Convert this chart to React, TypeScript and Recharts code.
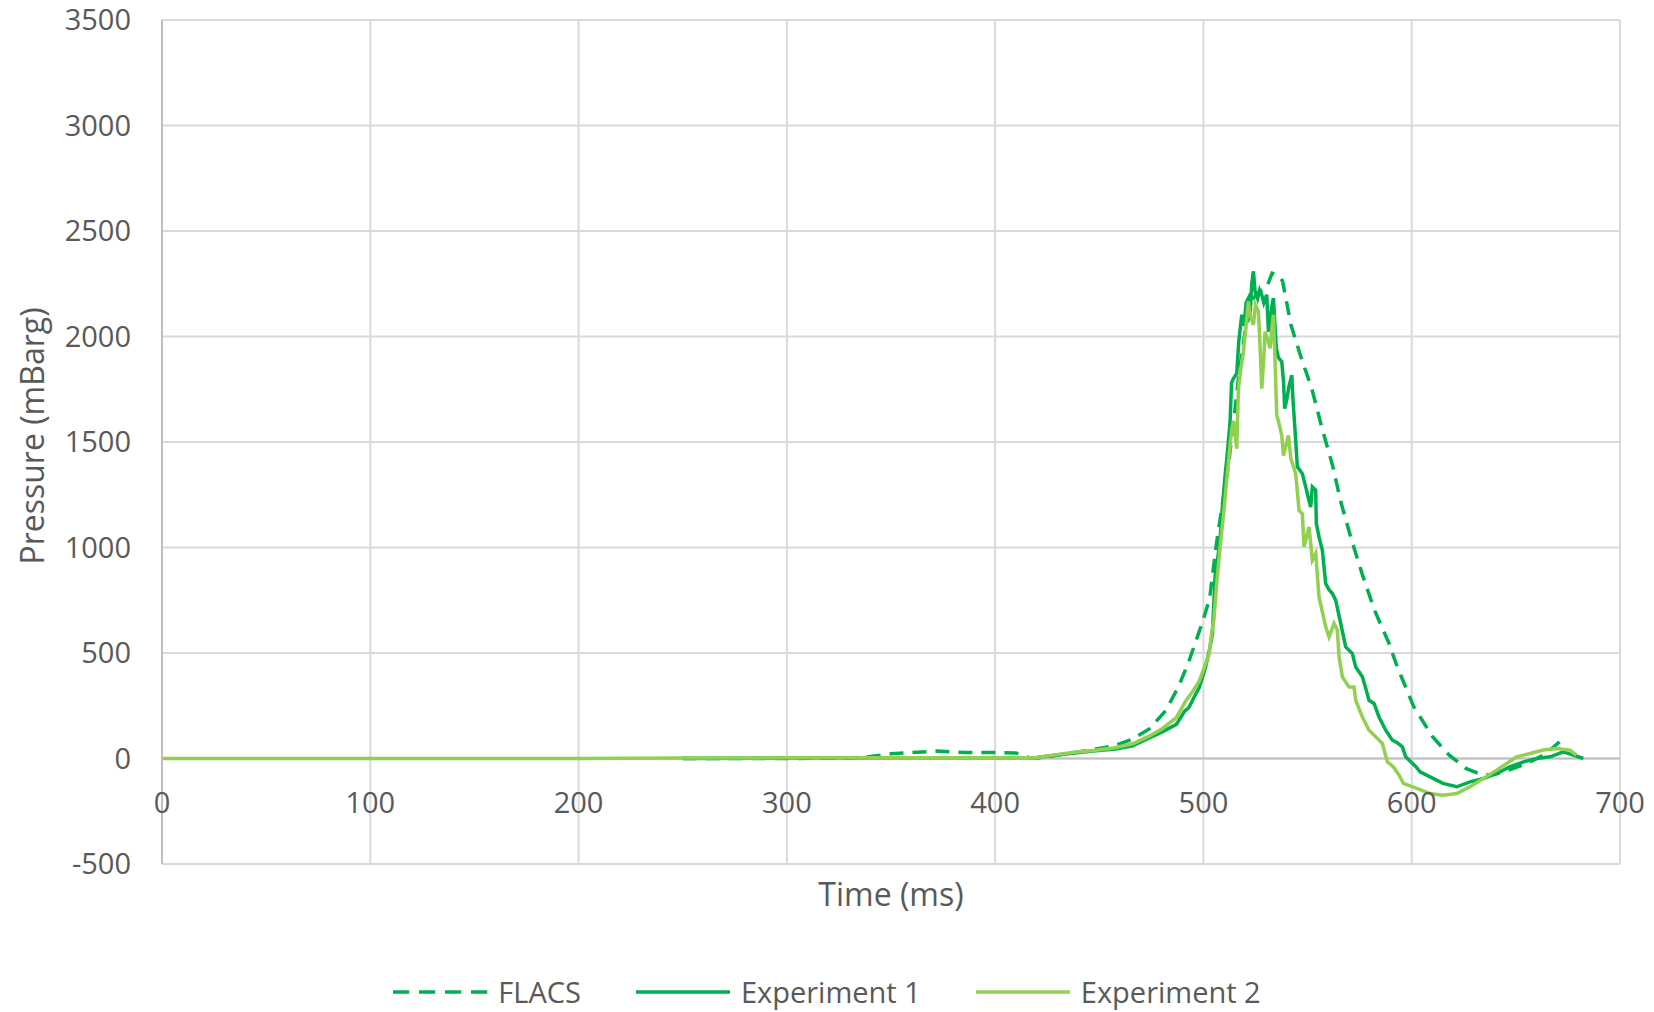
import React from "react";
import {
  LineChart,
  Line,
  XAxis,
  YAxis,
  CartesianGrid,
  ReferenceLine,
} from "recharts";

// Pressure traces, [time (ms), pressure (mBarg)]
const flacsPoints: number[][] = [
  [250, 0], [300, 0], [330, 2], [340, 10], [350, 22], [360, 28], [372, 35], [385, 28],
  [400, 28], [410, 26], [416, 5], [422, 2], [434, 22], [446, 40], [457, 60], [466, 92],
  [474, 140], [482, 228], [488, 340], [493, 460], [497, 574], [500, 660], [503, 760],
  [506, 1000], [509, 1200], [512, 1390], [515, 1640], [517, 1817], [520, 2023], [524, 2182],
  [527, 2214], [530, 2225], [533, 2300], [536, 2290], [538, 2262], [542, 2055], [547, 1897],
  [552, 1754], [557, 1563], [562, 1389], [566, 1214], [571, 1040], [576, 881], [582, 706],
  [589, 548], [593, 436], [601, 245], [610, 103], [618, 16], [626, -47], [634, -79],
  [640, -75], [648, -50], [656, -20], [664, 20], [671, 79],
];

const exp1Points: number[][] = [
  [250, 0], [300, 2], [350, 3], [400, 3], [420, 5], [437, 25], [447, 35], [458, 45],
  [466, 60], [474, 98], [480, 125], [487, 162], [491, 225], [493, 241], [496, 300],
  [498, 336], [500, 400], [501, 432], [503, 520], [504.3, 590], [505.6, 865], [507, 960],
  [508, 1040], [509, 1180], [510.4, 1341], [511.5, 1450], [512.8, 1595], [513.5, 1780],
  [514.4, 1801], [516, 1825], [517, 1980], [518.4, 2103], [519.5, 2050], [520.5, 2160],
  [521.6, 2182], [522.5, 2120], [523.2, 2250], [524, 2309], [524.8, 2214], [526, 2180],
  [527, 2220], [528, 2198], [529, 2160], [530.4, 2198], [531.2, 2023], [532, 2080],
  [533, 2150], [533.6, 2182], [534.3, 2060], [535, 1944], [536, 1900], [537.6, 1881],
  [538.5, 1780], [539, 1658], [540, 1700], [541, 1760], [542.4, 1817], [543, 1700],
  [544.3, 1508], [545.1, 1382], [547.5, 1350], [549.1, 1287], [550.5, 1230], [551.5, 1192],
  [552.3, 1287], [553.9, 1271], [554.2, 1113], [555.5, 1050], [557.1, 987], [558.7, 829],
  [560.3, 800], [561.9, 782], [563.5, 750], [565.9, 640], [568.3, 529], [571.5, 497],
  [573.1, 434], [576.3, 387], [578, 330], [579.5, 276], [581.9, 261], [584.3, 197],
  [587.5, 134], [590.7, 87], [593, 75], [595.5, 55], [597.1, 8], [602, -39], [604, -63],
  [608.8, -87], [615, -118], [621.6, -134], [628, -111], [634.4, -95], [640.8, -71],
  [647, -40], [653.6, -16], [660, 0], [666.4, 8], [672.8, 32], [677.6, 16], [682.4, 0],
];

const exp2Points: number[][] = [
  [0, 0], [100, 0], [200, 0], [250, 2], [300, 3], [350, 3], [400, 3], [420, 5],
  [437, 28], [447, 38], [457, 50], [466, 70], [474, 106], [480, 140], [487, 194],
  [491.5, 273], [495, 320], [498, 368], [500, 420], [502.7, 495], [504, 600], [505, 654],
  [506.4, 833], [508, 1000], [509.6, 1150], [511, 1300], [512, 1404], [513.6, 1563],
  [514.5, 1600], [516, 1468], [516.8, 1753], [518, 1850], [519.2, 1928], [520.5, 2050],
  [521.6, 2166], [522.5, 2100], [524, 2055], [525, 2150], [526.4, 2119], [527.2, 1950],
  [528, 1753], [529, 1900], [529.6, 2023], [531, 1980], [532, 1944], [533, 2050],
  [533.6, 2103], [534.5, 1850], [535.2, 1627], [536.5, 1580], [537.6, 1531], [538.4, 1436],
  [539.5, 1480], [540.8, 1531], [542, 1420], [544.3, 1350], [545.9, 1176], [547.5, 1160],
  [548.3, 1003], [550.7, 1097], [552.3, 940], [553.9, 971], [555.5, 766], [557, 700],
  [558.7, 624], [560.3, 576], [562.7, 640], [564.3, 608], [565.1, 482], [566.7, 387],
  [569.9, 339], [572.3, 339], [573.1, 276], [576.3, 197], [579.5, 134], [582.7, 103],
  [585.9, 71], [588.3, -16], [591.2, -40], [594, -80], [596, -118], [602.4, -142],
  [608.8, -166], [615, -174], [621.6, -166], [628, -134], [634.4, -95], [640.8, -55],
  [650.4, 8], [656.8, 24], [663.2, 40], [669.6, 47], [676, 40], [679, 16],
];

const xTicks = [0, 100, 200, 300, 400, 500, 600, 700];
const yTicks = [-500, 0, 500, 1000, 1500, 2000, 2500, 3000, 3500];

const toRows = (pts: number[][]) => pts.map(([t, p]) => ({ t, p }));

const W = 1654;
const H = 1012;
const M = { top: 20, right: 34, bottom: 88, left: 0 };
const X_AXIS_H = 60;
const PLOT_H = H - M.top - M.bottom - X_AXIS_H;
const Y_MIN = -500;
const Y_MAX = 3500;
// Excel draws the category labels along the 0 line, not at the bottom
const ZERO_FROM_BOTTOM = (PLOT_H * (0 - Y_MIN)) / (Y_MAX - Y_MIN);

const TEXT = "#595959";
const FONT = "'Open Sans', sans-serif";

const XTick = (props: any) => {
  const { x, y, payload } = props;
  return (
    <text
      x={x}
      y={y - ZERO_FROM_BOTTOM + 41}
      textAnchor="middle"
      dominantBaseline="central"
      fill={TEXT}
      fontSize={29}
      fontFamily={FONT}
    >
      {payload.value}
    </text>
  );
};

const series = [
  { name: "FLACS", color: "#00B050", dash: "14 9" },
  { name: "Experiment 1", color: "#00B050", dash: undefined },
  { name: "Experiment 2", color: "#92D050", dash: undefined },
];

export default function App() {
  return (
    <div
      style={{
        position: "absolute",
        left: 0,
        top: 0,
        width: W,
        height: H,
        background: "#fff",
        fontFamily: FONT,
      }}
    >
      <LineChart width={W} height={H} margin={M}>
        <CartesianGrid stroke="#D9D9D9" strokeWidth={2} />
        <XAxis
          type="number"
          dataKey="t"
          domain={[0, 700]}
          ticks={xTicks}
          height={X_AXIS_H}
          axisLine={false}
          tickLine={false}
          tickSize={0}
          tick={<XTick />}
          label={({ viewBox }: any) => (
            <text
              x={viewBox.x + viewBox.width / 2}
              y={viewBox.y + 29}
              textAnchor="middle"
              dominantBaseline="central"
              fill={TEXT}
              fontSize={32}
              fontFamily={FONT}
            >
              Time (ms)
            </text>
          )}
        />
        <YAxis
          type="number"
          domain={[Y_MIN, Y_MAX]}
          ticks={yTicks}
          width={162}
          axisLine={{ stroke: "#BFBFBF", strokeWidth: 2 }}
          tickLine={false}
          tickSize={0}
          tickMargin={31}
          tick={{ fill: TEXT, fontSize: 29, fontFamily: FONT }}
          label={({ viewBox }: any) => {
            const cx = 31;
            const cy = viewBox.y + viewBox.height / 2 - 6;
            return (
              <text
                x={cx}
                y={cy}
                transform={`rotate(-90, ${cx}, ${cy})`}
                textAnchor="middle"
                dominantBaseline="central"
                fill={TEXT}
                fontSize={32}
                fontFamily={FONT}
              >
                Pressure (mBarg)
              </text>
            );
          }}
        />
        <ReferenceLine y={0} stroke="#BFBFBF" strokeWidth={2} />
        <Line
          data={toRows(flacsPoints)}
          dataKey="p"
          name="FLACS"
          type="linear"
          stroke="#00B050"
          strokeWidth={3.5}
          strokeDasharray="14 9"
          dot={false}
          isAnimationActive={false}
        />
        <Line
          data={toRows(exp1Points)}
          dataKey="p"
          name="Experiment 1"
          type="linear"
          stroke="#00B050"
          strokeWidth={3.5}
          dot={false}
          isAnimationActive={false}
        />
        <Line
          data={toRows(exp2Points)}
          dataKey="p"
          name="Experiment 2"
          type="linear"
          stroke="#92D050"
          strokeWidth={3.5}
          dot={false}
          isAnimationActive={false}
        />
      </LineChart>
      <div
        style={{
          position: "absolute",
          left: 0,
          top: 972,
          width: W,
          height: 40,
          display: "flex",
          justifyContent: "center",
          alignItems: "center",
          gap: 55,
          color: TEXT,
          fontSize: 29,
        }}
      >
        {series.map((s) => (
          <div key={s.name} style={{ display: "flex", alignItems: "center", gap: 11 }}>
            <svg width={94} height={10}>
              <line
                x1={0}
                y1={5}
                x2={94}
                y2={5}
                stroke={s.color}
                strokeWidth={3.5}
                strokeDasharray={s.dash ? "16 10" : undefined}
              />
            </svg>
            <span style={{ lineHeight: "40px" }}>{s.name}</span>
          </div>
        ))}
      </div>
    </div>
  );
}
